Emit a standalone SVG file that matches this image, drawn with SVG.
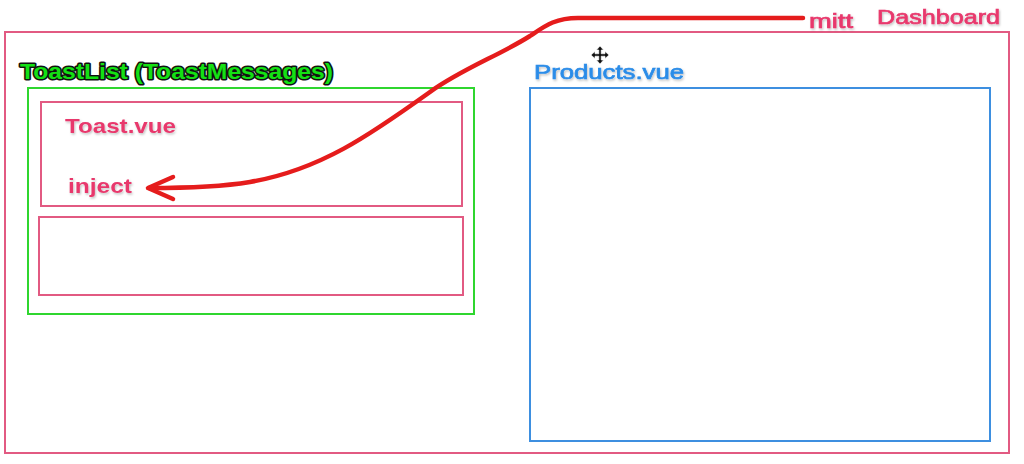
<svg xmlns="http://www.w3.org/2000/svg" width="1024" height="464" viewBox="0 0 1024 464">
<defs>
<filter id="sh" x="-10%" y="-30%" width="120%" height="160%">
<feDropShadow dx="1" dy="1.5" stdDeviation="1" flood-color="#000" flood-opacity="0.25"/>
</filter>
<style>
.lbl{font-family:"Liberation Sans",Arial,sans-serif;font-size:21px;filter:url(#sh)}
.thick{stroke-width:0.7px;paint-order:stroke}
.pink{fill:#e8386c;stroke:#e8386c}
.box{fill:none;stroke-width:2}
.pbox{stroke:#e25a82}
</style>
</defs>
<rect width="1024" height="464" fill="#fff"/>
<g id="dashboard">
<rect class="box pbox" x="5" y="32" width="1004" height="421"/>
<text class="lbl pink thick" x="877" y="24" textLength="123" lengthAdjust="spacingAndGlyphs">Dashboard</text>
</g>
<g id="toastlist">
<rect class="box" stroke="#2fd62f" x="28" y="88" width="446" height="226"/>
<text x="20" y="79" font-family="Liberation Sans,Arial,sans-serif" font-weight="bold" font-size="22" fill="#14e014" stroke="#111" stroke-width="3" stroke-linejoin="round" paint-order="stroke" textLength="313" lengthAdjust="spacingAndGlyphs">ToastList (ToastMessages)</text>
</g>
<g id="toast">
<rect class="box pbox" x="41" y="102" width="421" height="104"/>
<text class="lbl pink" x="65" y="133" font-weight="bold" stroke-width="0" textLength="111" lengthAdjust="spacingAndGlyphs">Toast.vue</text>
<text class="lbl pink" x="68" y="193" font-weight="bold" stroke-width="0" textLength="64" lengthAdjust="spacingAndGlyphs">inject</text>
</g>
<g id="toast2">
<rect class="box pbox" x="39" y="217" width="424" height="78"/>
</g>
<g id="products">
<rect class="box" stroke="#3d8fe0" x="530" y="88" width="460" height="353"/>
<text class="lbl thick" x="534" y="79" fill="#2b8ce8" stroke="#2b8ce8" font-size="22" textLength="150" lengthAdjust="spacingAndGlyphs">Products.vue</text>
</g>
<g id="mitt">
<text class="lbl pink thick" x="809" y="28" textLength="44" lengthAdjust="spacingAndGlyphs">mitt</text>
</g>
<g id="connectors" fill="none" stroke="#e51c1c" stroke-width="4.5" stroke-linecap="round" stroke-linejoin="round">
<path d="M803,18 L578,18 C555,18 545,26 530,36 C500,55 460,70 430,92 C370,135 320,170 250,182 C220,187 180,188 149,188"/>
<path d="M173,177 L148,188 L173,199"/>
</g>
<g id="cursor" transform="translate(600,55)" fill="#111" stroke="#fff" stroke-width="0.6">
<path d="M0,-9 L-3.5,-5 L-1.2,-5 L-1.2,-1.2 L-5,-1.2 L-5,-3.5 L-9,0 L-5,3.5 L-5,1.2 L-1.2,1.2 L-1.2,5 L-3.5,5 L0,9 L3.5,5 L1.2,5 L1.2,1.2 L5,1.2 L5,3.5 L9,0 L5,-3.5 L5,-1.2 L1.2,-1.2 L1.2,-5 L3.5,-5 Z"/>
</g>
</svg>
